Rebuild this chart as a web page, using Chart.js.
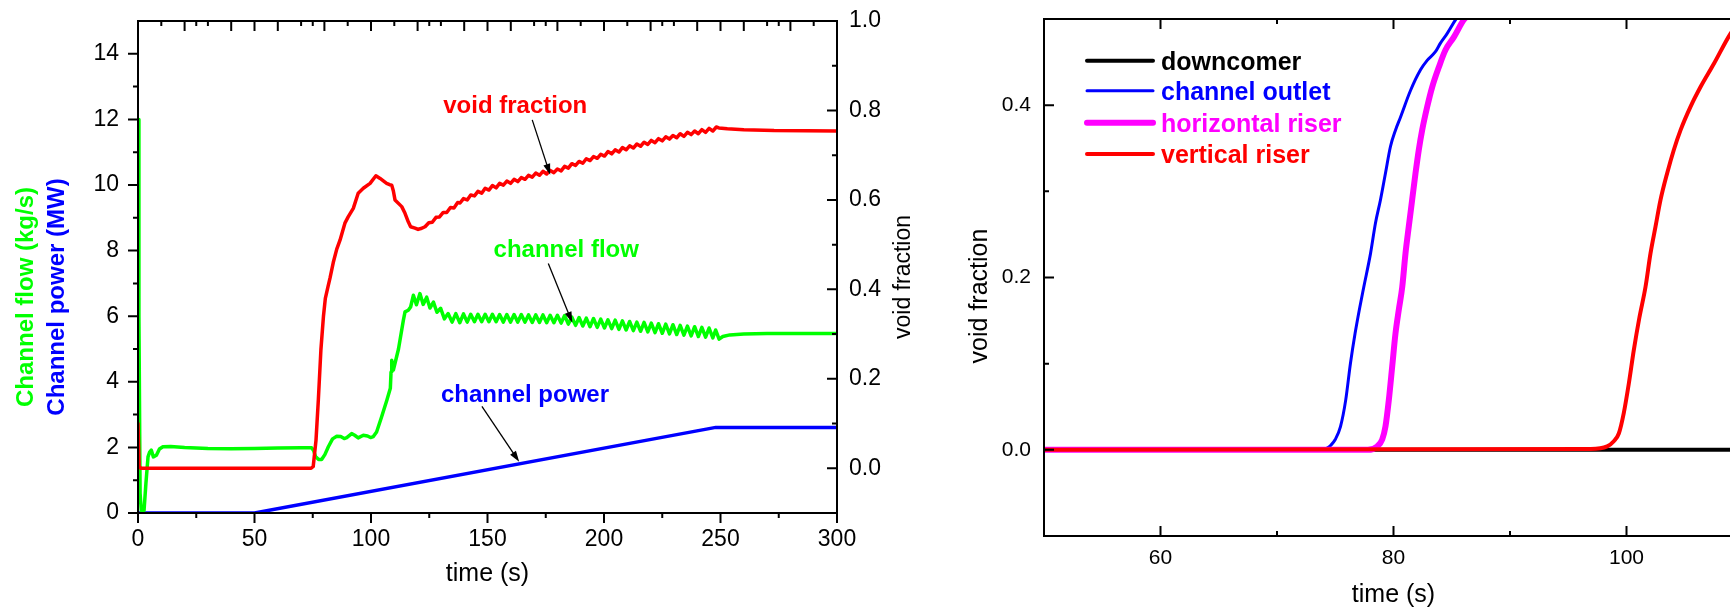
<!DOCTYPE html>
<html>
<head>
<meta charset="utf-8">
<script src="https://cdn.jsdelivr.net/npm/chart.js@4.4.0/dist/chart.umd.min.js"></script>
<style>
  html, body { margin: 0; padding: 0; background: #fff; overflow: hidden; width: 1730px; height: 611px; }
  canvas { position: absolute; top: 0; }
  #left { left: 0; }
  #right { left: 940px; }
</style>
</head>
<body>
<canvas id="left" width="940" height="611"></canvas>
<canvas id="right" width="820" height="611"></canvas>
<script>
// ---- left panel: transient of one channel, [time s, value] ----
const channelFlow = [
  [0, 12.0], [0.4, 6.0], [0.9, 0.6], [1.4, 0.08], [2.6, 0.08], [3.4, 0.9], [4.3, 1.71], [5.0, 1.86],
  [5.7, 1.92], [6.6, 1.71], [7.9, 1.76], [9.2, 1.95], [10.7, 2.02], [14, 2.03], [20, 2.0], [30, 1.97],
  [40, 1.96], [50, 1.97], [60, 1.98], [70, 1.99], [74.5, 1.99], [75.4, 1.9], [76.2, 1.72], [77.5, 1.63],
  [78.8, 1.63], [80.2, 1.78], [81.7, 2.02], [83.5, 2.26], [85.3, 2.34], [87.0, 2.33], [88.5, 2.27], [89.6, 2.30],
  [91.7, 2.42], [93.0, 2.37], [94.5, 2.29], [96.7, 2.37], [98.5, 2.35], [99.8, 2.30], [101.0, 2.33], [102.4, 2.47],
  [104.5, 2.92], [106.8, 3.44], [108.3, 3.80], [108.6, 4.30], [108.9, 4.66], [109.2, 4.45], [109.6, 4.36], [111.8, 5.00],
  [113.9, 5.88], [114.6, 6.13], [116.0, 6.18], [117.0, 6.28], [118.2, 6.64], [119.5, 6.35], [121.0, 6.69], [122.4, 6.36],
  [123.9, 6.58], [125.3, 6.25], [126.8, 6.43], [128.3, 6.12], [129.9, 6.24], [131.5, 5.92], [133.1, 6.08], [134.8, 5.82],
  [136.4, 6.08], [138.1, 5.80],
  [139.7, 6.07], [141.3, 5.82], [142.8, 6.06], [144.4, 5.83], [145.9, 6.06], [147.5, 5.83], [149.0, 6.06], [150.6, 5.83],
  [152.1, 6.06], [153.7, 5.83], [155.2, 6.05], [156.8, 5.82], [158.3, 6.05], [159.9, 5.82], [161.4, 6.05], [163.0, 5.82],
  [164.5, 6.05], [166.1, 5.82], [167.6, 6.04], [169.2, 5.81], [170.7, 6.04], [172.3, 5.81], [173.8, 6.04], [175.4, 5.80],
  [176.9, 6.03], [178.5, 5.80], [180.0, 6.03], [181.6, 5.79], [183.1, 6.02], [184.7, 5.76], [186.2, 5.97], [187.8, 5.72],
  [189.3, 5.96], [190.9, 5.70], [192.4, 5.94], [194.0, 5.68], [195.5, 5.93], [197.1, 5.66], [198.6, 5.91], [200.2, 5.64],
  [201.7, 5.89], [203.3, 5.62], [204.8, 5.88], [206.4, 5.60], [207.9, 5.86], [209.5, 5.58], [211.0, 5.84], [212.6, 5.56],
  [214.1, 5.82], [215.7, 5.54], [217.2, 5.81], [218.8, 5.52], [220.3, 5.79], [221.9, 5.50], [223.4, 5.77], [225.0, 5.48],
  [226.5, 5.76], [228.1, 5.46], [229.6, 5.74], [231.2, 5.44], [232.7, 5.72], [234.3, 5.42], [235.8, 5.70], [237.4, 5.40],
  [238.9, 5.68], [240.5, 5.38], [242.0, 5.66], [243.6, 5.36], [245.1, 5.64], [246.7, 5.34], [247.9, 5.58], [249.4, 5.30],
  [251.0, 5.38], [254.0, 5.43], [260.0, 5.46], [270.0, 5.47], [300.0, 5.47]
];

const channelPower = [[0, 0], [50, 0], [248, 2.61], [300, 2.61]];

const voidFraction = [
  [0, 0.10], [0.5, 0.004], [1.2, 0.0], [74.3, 0.0], [75.2, 0.004], [76.4, 0.063], [77.4, 0.153], [78.5, 0.265],
  [79.6, 0.340], [80.4, 0.380], [81.5, 0.405], [82.4, 0.425], [83.8, 0.460], [85.3, 0.490], [86.7, 0.510], [88.8, 0.548],
  [90.2, 0.562], [92.4, 0.581], [94.5, 0.615], [96.7, 0.626], [99.6, 0.637], [102.1, 0.654], [103.9, 0.648], [106.7, 0.637],
  [108.0, 0.634], [108.9, 0.633], [109.6, 0.620], [110.3, 0.600], [113.2, 0.585], [114.6, 0.570], [116.0, 0.551], [117.0, 0.540],
  [118.9, 0.537], [120.2, 0.534], [121.4, 0.536], [123.2, 0.540], [124.8, 0.549], [126.3, 0.550], [127.9, 0.561], [129.4, 0.562],
  [131.0, 0.572], [132.5, 0.572], [134.1, 0.583], [135.6, 0.582], [137.2, 0.594], [138.2, 0.593],
  [139.7, 0.603], [141.3, 0.600], [142.8, 0.611], [144.4, 0.609], [145.9, 0.619], [147.5, 0.615], [149.0, 0.626], [150.6, 0.622],
  [152.1, 0.632], [153.7, 0.627], [155.2, 0.637], [156.8, 0.633], [158.3, 0.642], [159.9, 0.637], [161.4, 0.646], [163.0, 0.641],
  [164.5, 0.650], [166.1, 0.646], [167.6, 0.655], [169.2, 0.651], [170.7, 0.660], [172.3, 0.655], [173.8, 0.664], [175.4, 0.658],
  [176.9, 0.666], [178.5, 0.661], [180.0, 0.669], [181.6, 0.665], [183.1, 0.675], [184.7, 0.671], [186.2, 0.681], [187.8, 0.677],
  [189.3, 0.686], [190.9, 0.682], [192.4, 0.692], [194.0, 0.688], [195.5, 0.697], [197.1, 0.693], [198.6, 0.702], [200.2, 0.698],
  [201.7, 0.708], [203.3, 0.703], [204.8, 0.712], [206.4, 0.707], [207.9, 0.717], [209.5, 0.712], [211.0, 0.721], [212.6, 0.716],
  [214.1, 0.725], [215.7, 0.720], [217.2, 0.729], [218.8, 0.724], [220.3, 0.733], [221.9, 0.728], [223.4, 0.737], [225.0, 0.732],
  [226.5, 0.741], [228.1, 0.736], [229.6, 0.744], [231.2, 0.739], [232.7, 0.748], [234.3, 0.742], [235.8, 0.751], [237.4, 0.746],
  [238.9, 0.754], [240.5, 0.748], [242.0, 0.757], [243.6, 0.751], [245.1, 0.760], [246.7, 0.754], [248.2, 0.763], [249.3, 0.761],
  [252.9, 0.759], [260.0, 0.757], [273.0, 0.755], [300.0, 0.754]
];

// ---- right panel: void fraction along the loop ----
const downcomer = [[50, 0], [110, 0]];
const channelOutlet = [
  [50, 0], [73.8, 0], [74.3, 0.002], [74.6, 0.005], [75.0, 0.012], [75.45, 0.027], [75.9, 0.058], [76.3, 0.100],
  [76.7, 0.135], [77.1, 0.165], [77.45, 0.189], [78.03, 0.228], [78.45, 0.263], [78.88, 0.290], [79.31, 0.321], [79.74, 0.352],
  [80.17, 0.371], [80.6, 0.386], [81.46, 0.417], [82.32, 0.441], [82.89, 0.452], [83.6, 0.462], [84.03, 0.472], [84.6, 0.483],
  [85.32, 0.499], [85.7, 0.506]
];
const horizontalRiser = [
  [50, 0], [77.8, 0], [78.6, 0.004], [79.03, 0.012], [79.31, 0.027], [79.6, 0.058], [79.89, 0.097], [80.17, 0.135],
  [80.46, 0.163], [80.75, 0.189], [81.03, 0.228], [81.31, 0.259], [81.6, 0.290], [81.89, 0.321], [82.17, 0.348], [82.46, 0.371],
  [82.89, 0.398], [83.32, 0.421], [83.89, 0.444], [84.46, 0.464], [85.18, 0.479], [86.03, 0.499], [86.5, 0.506]
];
const verticalRiser = [
  [50, 0], [96.9, 0.001], [98.34, 0.004], [98.91, 0.010], [99.34, 0.019], [99.77, 0.043], [100.2, 0.077], [100.63, 0.116],
  [101.1, 0.153], [101.63, 0.189], [102.06, 0.228], [102.49, 0.259], [102.92, 0.290], [103.49, 0.321], [104.06, 0.348], [104.64, 0.371],
  [105.49, 0.398], [106.35, 0.421], [107.5, 0.448], [108.93, 0.483], [110.0, 0.502]
];

// ---- tick values ----
const timeTicks = [0, 50, 100, 150, 200, 250, 300];
const timeMinor = [25, 75, 125, 175, 225, 275];
const flowTicks = [0, 2, 4, 6, 8, 10, 12, 14];
const flowMinor = [1, 3, 5, 7, 9, 11, 13];
const voidTicks = [0, 0.2, 0.4, 0.6, 0.8, 1.0];
const voidMinor = [0.1, 0.3, 0.5, 0.7, 0.9];
const zoomTimeTicks = [60, 80, 100];
const zoomTimeMinor = [70, 90];
const zoomVoidTicks = [0, 0.2, 0.4];
const zoomVoidMinor = [0.1, 0.3];

const RED = '#ff0000', GREEN = '#00ff00', BLUE = '#0000ff', MAGENTA = '#ff00ff', BLACK = '#000000';
const FONT = '"Liberation Sans", Arial, Helvetica, sans-serif';
Chart.defaults.font.family = FONT;
Chart.defaults.color = '#000';

const pts = arr => arr.map(([x, y]) => ({ x, y }));
const useTicks = list => scale => { scale.ticks = list.map(v => ({ value: v })); };
// fixed axis box size; label overhang must not push the plot area around
const boxSize = (prop, size) => scale => {
  scale[prop] = size;
  scale.paddingTop = scale.paddingBottom = scale.paddingLeft = scale.paddingRight = 0;
};

function marks(ctx, scale, values, len, base, dir) {
  ctx.beginPath();
  values.forEach(v => {
    const p = scale.getPixelForValue(v);
    if (scale.isHorizontal()) { ctx.moveTo(p, base); ctx.lineTo(p, base + dir * len); }
    else { ctx.moveTo(base, p); ctx.lineTo(base + dir * len, p); }
  });
  ctx.stroke();
}

function vText(ctx, text, x, y, font, color) {
  ctx.save();
  ctx.translate(x, y);
  ctx.rotate(-Math.PI / 2);
  ctx.font = font;
  ctx.fillStyle = color;
  ctx.textAlign = 'center';
  ctx.textBaseline = 'alphabetic';
  ctx.fillText(text, 0, 0);
  ctx.restore();
}

function arrow(ctx, x1, y1, x2, y2) {
  const a = Math.atan2(y2 - y1, x2 - x1);
  ctx.beginPath();
  ctx.moveTo(x1, y1);
  ctx.lineTo(x2 - 6 * Math.cos(a), y2 - 6 * Math.sin(a));
  ctx.stroke();
  ctx.beginPath();
  ctx.moveTo(x2, y2);
  ctx.lineTo(x2 - 11 * Math.cos(a) + 3.5 * Math.sin(a), y2 - 11 * Math.sin(a) - 3.5 * Math.cos(a));
  ctx.lineTo(x2 - 11 * Math.cos(a) - 3.5 * Math.sin(a), y2 - 11 * Math.sin(a) + 3.5 * Math.cos(a));
  ctx.closePath();
  ctx.fill();
}

// labels with arrows on the left panel, placed in data units
const notes = [
  { text: 'void fraction', color: RED, axis: 'yR', at: [161.9, 0.794], from: [169.2, 0.779], to: [176.9, 0.656] },
  { text: 'channel flow', color: GREEN, axis: 'yL', at: [183.8, 7.81], from: [176.1, 7.61], to: [186.4, 5.80] },
  { text: 'channel power', color: BLUE, axis: 'yL', at: [166.1, 3.39], from: [147.6, 3.25], to: [163.6, 1.56] }
];

const leftDecor = {
  id: 'leftDecor',
  afterDatasetsDraw(chart) {
    const { ctx, chartArea: a, scales: { x, yL, yR } } = chart;
    ctx.save();
    ctx.strokeStyle = BLACK;
    ctx.lineWidth = 2;
    ctx.strokeRect(a.left, a.top, a.right - a.left, a.bottom - a.top);
    marks(ctx, x, timeTicks, 10, a.bottom, 1);
    marks(ctx, x, timeMinor, 5, a.bottom, 1);
    marks(ctx, yL, flowTicks, 10, a.left, -1);
    marks(ctx, yL, flowMinor, 5, a.left, -1);
    marks(ctx, yR, voidTicks, 10, a.right, -1);
    marks(ctx, yR, voidMinor, 5, a.right, -1);
    // top edge carries both the 20/10 s and the 50/25 s tick sets
    const topLong = [], topShort = [];
    for (let t = 10; t < 300; t += 5) {
      if (t % 20 === 0 || t % 50 === 0) topLong.push(t);
      else if (t % 10 === 0 || t % 25 === 0) topShort.push(t);
    }
    marks(ctx, x, topLong, 10, a.top, 1);
    marks(ctx, x, topShort, 5, a.top, 1);

    ctx.lineWidth = 1.3;
    ctx.fillStyle = BLACK;
    notes.forEach(n => {
      const y = chart.scales[n.axis];
      arrow(ctx, x.getPixelForValue(n.from[0]), y.getPixelForValue(n.from[1]),
        x.getPixelForValue(n.to[0]), y.getPixelForValue(n.to[1]));
    });
    ctx.font = 'bold 24px ' + FONT;
    ctx.textAlign = 'center';
    ctx.textBaseline = 'alphabetic';
    notes.forEach(n => {
      ctx.fillStyle = n.color;
      ctx.fillText(n.text, x.getPixelForValue(n.at[0]), chart.scales[n.axis].getPixelForValue(n.at[1]));
    });

    // axis titles
    ctx.fillStyle = BLACK;
    ctx.font = '25px ' + FONT;
    ctx.fillText('time (s)', (a.left + a.right) / 2, 581);
    vText(ctx, 'Channel flow (kg/s)', 32.5, 297, 'bold 24px ' + FONT, GREEN);
    vText(ctx, 'Channel power (MW)', 64, 297, 'bold 24px ' + FONT, BLUE);
    vText(ctx, 'void fraction', 910, 277, '23px ' + FONT, BLACK);
    ctx.restore();
  }
};

const rightDecor = {
  id: 'rightDecor',
  afterDatasetsDraw(chart) {
    const { ctx, chartArea: a, scales: { x, y } } = chart;
    ctx.save();
    ctx.strokeStyle = BLACK;
    ctx.lineWidth = 2;
    ctx.strokeRect(a.left, a.top, a.right - a.left, a.bottom - a.top);
    marks(ctx, x, zoomTimeTicks, 10, a.bottom, -1);
    marks(ctx, x, zoomTimeMinor, 5, a.bottom, -1);
    marks(ctx, x, zoomTimeTicks, 10, a.top, 1);
    marks(ctx, x, zoomTimeMinor, 5, a.top, 1);
    marks(ctx, y, zoomVoidTicks, 10, a.left, 1);
    marks(ctx, y, zoomVoidMinor, 5, a.left, 1);

    // legend in the upper left corner, in dataset order
    const rows = [41.7, 71.7, 103.7, 135];
    ctx.font = 'bold 25px ' + FONT;
    ctx.textAlign = 'left';
    ctx.textBaseline = 'alphabetic';
    ['downcomer', 'channel outlet', 'horizontal riser', 'vertical riser'].forEach((name, i) => {
      const ds = chart.data.datasets.find(d => d.label === name);
      const ly = a.top + rows[i];
      ctx.strokeStyle = ds.borderColor;
      ctx.lineWidth = ds.borderWidth;
      ctx.lineCap = 'round';
      ctx.beginPath();
      ctx.moveTo(a.left + 43, ly);
      ctx.lineTo(a.left + 109, ly);
      ctx.stroke();
      ctx.fillStyle = ds.borderColor;
      ctx.fillText(name, a.left + 117, ly + 9);
    });

    ctx.fillStyle = BLACK;
    ctx.font = '25px ' + FONT;
    ctx.textAlign = 'center';
    ctx.fillText('time (s)', (a.left + a.right) / 2, 601.5);
    vText(ctx, 'void fraction', 46.7, 296, '25px ' + FONT, BLACK);
    ctx.restore();
  }
};

const baseOptions = {
  responsive: false,
  animation: false,
  devicePixelRatio: 1,
  parsing: false,
  elements: { point: { radius: 0 }, line: { tension: 0, borderJoinStyle: 'round', borderCapStyle: 'round' } },
  plugins: { legend: { display: false }, tooltip: { enabled: false } }
};

const hidden = { grid: { display: false, drawTicks: false }, border: { display: false } };

new Chart(document.getElementById('left'), {
  type: 'line',
  data: {
    datasets: [
      { label: 'void fraction', data: pts(voidFraction), yAxisID: 'yR', borderColor: RED, borderWidth: 3.5, order: 0 },
      { label: 'channel flow', data: pts(channelFlow), yAxisID: 'yL', borderColor: GREEN, borderWidth: 3.5, order: 1 },
      { label: 'channel power', data: pts(channelPower), yAxisID: 'yL', borderColor: BLUE, borderWidth: 3.5, order: 2 }
    ]
  },
  options: {
    ...baseOptions,
    layout: { padding: { top: 21, left: 0, right: 0, bottom: 0 } },
    scales: {
      x: {
        type: 'linear', position: 'bottom', min: 0, max: 300, ...hidden,
        afterBuildTicks: useTicks(timeTicks),
        afterFit: boxSize('height', 98),
        ticks: { padding: 12.5, maxRotation: 0, font: { size: 23 }, callback: v => String(v) }
      },
      yL: {
        type: 'linear', position: 'left', min: 0, max: 15, ...hidden,
        afterBuildTicks: useTicks(flowTicks),
        afterFit: boxSize('width', 138),
        ticks: { padding: 19, font: { size: 23 }, callback: v => String(v) }
      },
      yR: {
        type: 'linear', position: 'right', min: -0.1, max: 1.0, ...hidden,
        afterBuildTicks: useTicks(voidTicks),
        afterFit: boxSize('width', 103),
        ticks: { padding: 12, font: { size: 23 }, callback: v => v.toFixed(1) }
      }
    }
  },
  plugins: [leftDecor]
});

new Chart(document.getElementById('right'), {
  type: 'line',
  data: {
    datasets: [
      { label: 'downcomer', data: pts(downcomer), borderColor: BLACK, borderWidth: 4, order: 3 },
      { label: 'channel outlet', data: pts(channelOutlet), borderColor: BLUE, borderWidth: 3, order: 2, cubicInterpolationMode: 'monotone' },
      { label: 'horizontal riser', data: pts(horizontalRiser), borderColor: MAGENTA, borderWidth: 6, order: 1, cubicInterpolationMode: 'monotone' },
      { label: 'vertical riser', data: pts(verticalRiser), borderColor: RED, borderWidth: 4, order: 0, cubicInterpolationMode: 'monotone' }
    ]
  },
  options: {
    ...baseOptions,
    layout: { padding: { top: 19, left: 0, right: 17, bottom: 0 } },
    scales: {
      x: {
        type: 'linear', position: 'bottom', min: 50, max: 110, ...hidden,
        afterBuildTicks: useTicks(zoomTimeTicks),
        afterFit: boxSize('height', 75),
        ticks: { padding: 9.5, maxRotation: 0, font: { size: 21 }, callback: v => String(v) }
      },
      y: {
        type: 'linear', position: 'left', min: -0.1, max: 0.5, ...hidden,
        afterBuildTicks: useTicks(zoomVoidTicks),
        afterFit: boxSize('width', 104),
        ticks: { padding: 13, font: { size: 21 }, callback: v => v.toFixed(1) }
      }
    }
  },
  plugins: [rightDecor]
});
</script>
</body>
</html>
